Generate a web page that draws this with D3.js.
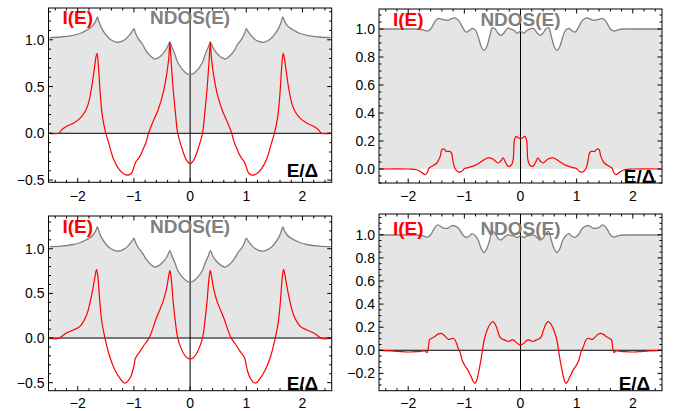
<!DOCTYPE html>
<html><head><meta charset="utf-8">
<script src="https://cdn.jsdelivr.net/npm/d3@7"></script>
<style>body{margin:0;background:#fff}svg{display:block}</style>
</head><body>
<svg id="c" width="682" height="411"></svg>
<script>
// ---------- data ----------
const xTicks = [-2, -1, 0, 1, 2];
const yTicksA = [-0.5, 0, 0.5, 1.0];
const yTicksB = [0, 0.2, 0.4, 0.6, 0.8, 1.0];
const yTicksD = [-0.2, 0, 0.2, 0.4, 0.6, 0.8, 1.0];

// NDOS grid, panels 1 and 3
const gridA = [-2.5,-2.3,-2.1,-1.95,-1.85,-1.78,-1.72,-1.68,-1.65,-1.62,-1.58,-1.52,-1.45,-1.38,-1.3,-1.22,-1.15,-1.08,-1.03,-1.0,-0.97,-0.92,-0.85,-0.78,-0.7,-0.63,-0.56,-0.5,-0.45,-0.4,-0.36,-0.33,-0.28,-0.22,-0.16,-0.1,-0.05,0,0.05,0.1,0.16,0.22,0.28,0.33,0.36,0.4,0.45,0.5,0.56,0.63,0.7,0.78,0.85,0.92,0.97,1.0,1.03,1.08,1.15,1.22,1.3,1.38,1.45,1.52,1.58,1.62,1.65,1.68,1.72,1.78,1.85,1.95,2.1,2.3,2.5];
const ndosA = [1.023,1.03,1.045,1.07,1.10,1.125,1.16,1.20,1.245,1.19,1.13,1.07,1.02,0.99,0.973,0.982,1.005,1.05,1.09,1.118,1.07,1.01,0.955,0.88,0.825,0.795,0.81,0.84,0.875,0.925,0.98,0.93,0.86,0.76,0.70,0.66,0.635,0.627,0.635,0.66,0.70,0.76,0.86,0.93,0.98,0.925,0.875,0.84,0.81,0.795,0.825,0.88,0.955,1.01,1.07,1.118,1.09,1.05,1.005,0.982,0.973,0.99,1.02,1.07,1.13,1.19,1.245,1.20,1.16,1.125,1.10,1.07,1.045,1.03,1.023];

// I(E), panel 1
const eI1 = [-2.5,-2.34,-2.28,-2.19,-2.08,-1.96,-1.87,-1.81,-1.75,-1.70,-1.67,-1.655,-1.63,-1.60,-1.56,-1.50,-1.45,-1.36,-1.27,-1.2,-1.14,-1.09,-1.05,-1.02,-0.99,-0.96,-0.92,-0.88,-0.83,-0.79,-0.74,-0.66,-0.57,-0.48,-0.42,-0.38,-0.36,-0.335,-0.30,-0.26,-0.22,-0.15,-0.1,-0.05,0,0.05,0.1,0.15,0.22,0.26,0.30,0.335,0.36,0.38,0.42,0.48,0.57,0.66,0.74,0.79,0.83,0.88,0.92,0.96,0.99,1.02,1.05,1.09,1.14,1.2,1.27,1.36,1.45,1.50,1.56,1.60,1.63,1.655,1.67,1.70,1.75,1.81,1.87,1.96,2.08,2.19,2.28,2.34,2.5];
const iE1 = [0,0,0.04,0.078,0.107,0.16,0.23,0.32,0.5,0.71,0.83,0.855,0.71,0.43,0.18,0.0,-0.10,-0.28,-0.38,-0.425,-0.445,-0.445,-0.43,-0.40,-0.34,-0.30,-0.27,-0.23,-0.16,-0.107,0.0,0.125,0.25,0.43,0.62,0.80,0.97,0.75,0.46,0.21,0.0,-0.15,-0.24,-0.30,-0.325,-0.30,-0.24,-0.15,0.0,0.21,0.46,0.75,0.97,0.80,0.62,0.43,0.25,0.125,0.0,-0.107,-0.16,-0.23,-0.27,-0.30,-0.34,-0.40,-0.43,-0.445,-0.445,-0.425,-0.38,-0.28,-0.10,0.0,0.18,0.43,0.71,0.855,0.83,0.71,0.5,0.32,0.23,0.16,0.107,0.078,0.04,0,0];

// I(E), panel 3
const eI3 = [-2.5,-2.34,-2.28,-2.2,-2.08,-1.96,-1.84,-1.75,-1.70,-1.665,-1.64,-1.61,-1.57,-1.515,-1.43,-1.34,-1.25,-1.16,-1.07,-1.01,-0.975,-0.95,-0.89,-0.81,-0.73,-0.6,-0.48,-0.42,-0.38,-0.36,-0.335,-0.30,-0.26,-0.22,-0.15,-0.1,-0.05,0,0.05,0.1,0.15,0.22,0.26,0.30,0.335,0.36,0.38,0.42,0.48,0.6,0.73,0.81,0.89,0.95,0.975,1.01,1.07,1.16,1.25,1.34,1.43,1.515,1.57,1.61,1.64,1.665,1.70,1.75,1.84,1.96,2.08,2.2,2.28,2.34,2.5];
const iE3 = [-0.005,-0.005,0.02,0.056,0.09,0.13,0.26,0.49,0.66,0.77,0.68,0.43,0.18,0.0,-0.21,-0.356,-0.45,-0.505,-0.45,-0.34,-0.23,-0.20,-0.15,-0.07,0.0,0.225,0.41,0.55,0.70,0.757,0.66,0.40,0.17,0.0,-0.13,-0.19,-0.225,-0.236,-0.225,-0.19,-0.13,0.0,0.17,0.40,0.66,0.757,0.70,0.55,0.41,0.225,0.0,-0.07,-0.15,-0.20,-0.23,-0.34,-0.45,-0.505,-0.45,-0.356,-0.21,0.0,0.18,0.43,0.68,0.77,0.66,0.49,0.26,0.13,0.09,0.056,0.02,-0.005,-0.005];

// NDOS grid, panels 2 and 4
const gridB = [-2.5,-2.0,-1.85,-1.75,-1.66,-1.6,-1.53,-1.47,-1.38,-1.3,-1.22,-1.16,-1.1,-1.03,-0.97,-0.91,-0.86,-0.8,-0.75,-0.7,-0.65,-0.6,-0.55,-0.5,-0.45,-0.4,-0.35,-0.3,-0.23,-0.17,-0.11,-0.06,0,0.06,0.11,0.17,0.23,0.3,0.35,0.4,0.45,0.5,0.55,0.6,0.65,0.7,0.75,0.8,0.86,0.91,0.97,1.03,1.1,1.16,1.22,1.3,1.38,1.47,1.53,1.6,1.66,1.75,1.85,2.0,2.5];
const ndosB = [1.0,1.0,1.0,0.995,0.985,1.0,1.05,1.075,1.068,1.062,1.075,1.078,1.06,1.01,0.978,0.99,1.005,0.99,0.94,0.875,0.848,0.875,0.945,1.01,1.0,0.97,0.955,0.97,1.005,1.0,0.99,0.97,0.985,0.97,0.99,1.0,1.005,0.97,0.955,0.97,1.0,1.01,0.945,0.875,0.848,0.875,0.94,0.99,1.005,0.99,0.978,1.01,1.06,1.078,1.075,1.062,1.068,1.075,1.05,1.0,0.985,0.995,1.0,1.0,1.0];
const ndosD = [0.998,0.998,0.998,0.992,0.98,1.0,1.06,1.085,1.06,1.056,1.08,1.075,1.055,1.0,0.978,0.99,1.01,0.99,0.95,0.88,0.846,0.88,0.95,1.03,1.01,0.97,0.955,0.975,1.0,0.995,0.99,0.975,0.99,0.975,0.99,0.995,1.0,0.975,0.955,0.97,1.01,1.03,0.95,0.88,0.846,0.88,0.95,0.99,1.01,0.99,0.978,1.0,1.055,1.075,1.08,1.056,1.06,1.085,1.06,1.0,0.98,0.992,0.998,0.998,0.998];

// I(E), panel 2
const eI2 = [-2.5,-2.0,-1.85,-1.76,-1.70,-1.66,-1.63,-1.58,-1.49,-1.43,-1.40,-1.36,-1.32,-1.26,-1.23,-1.2,-1.17,-1.11,-1.05,-0.99,-0.93,-0.81,-0.69,-0.58,-0.49,-0.40,-0.355,-0.31,-0.27,-0.22,-0.16,-0.13,-0.107,-0.077,-0.036,0,0.036,0.077,0.107,0.13,0.16,0.22,0.27,0.31,0.355,0.40,0.49,0.58,0.69,0.81,0.93,0.99,1.05,1.11,1.17,1.2,1.23,1.26,1.32,1.36,1.40,1.43,1.49,1.58,1.63,1.66,1.70,1.76,1.85,2.0,2.5];
const iE2 = [0,0,-0.005,-0.024,-0.04,-0.025,0.007,0.019,0.043,0.09,0.138,0.143,0.126,0.126,0.115,0.055,0.007,-0.021,-0.017,0.005,0.01,0.026,0.055,0.079,0.071,0.043,0.055,0.079,0.05,0.019,0.03,0.07,0.21,0.233,0.221,0.22,0.221,0.233,0.21,0.07,0.03,0.019,0.05,0.079,0.055,0.043,0.071,0.079,0.055,0.026,0.01,0.005,-0.017,-0.021,0.007,0.055,0.115,0.126,0.126,0.143,0.138,0.09,0.043,0.019,0.007,-0.025,-0.04,-0.024,-0.005,0,0];

// I(E), panel 4
const eI4 = [-2.5,-2.3,-2.1,-1.98,-1.85,-1.76,-1.70,-1.665,-1.64,-1.62,-1.58,-1.53,-1.47,-1.42,-1.37,-1.32,-1.28,-1.24,-1.2,-1.16,-1.12,-1.08,-1.03,-0.98,-0.94,-0.88,-0.84,-0.81,-0.78,-0.75,-0.70,-0.64,-0.58,-0.53,-0.49,-0.45,-0.40,-0.37,-0.32,-0.28,-0.24,-0.19,-0.155,-0.12,-0.08,-0.04,0,0.04,0.08,0.12,0.155,0.19,0.24,0.28,0.32,0.37,0.40,0.45,0.49,0.53,0.58,0.64,0.70,0.75,0.78,0.81,0.84,0.88,0.94,0.98,1.03,1.08,1.12,1.16,1.2,1.24,1.28,1.32,1.37,1.42,1.47,1.53,1.58,1.62,1.64,1.665,1.70,1.76,1.85,1.98,2.1,2.3,2.5];
const iE4 = [0,-0.005,-0.012,-0.015,-0.012,-0.008,-0.005,-0.02,0.03,0.09,0.105,0.118,0.14,0.147,0.135,0.11,0.095,0.098,0.104,0.085,0.03,-0.012,-0.098,-0.14,-0.17,-0.228,-0.27,-0.286,-0.26,-0.2,-0.07,0.104,0.19,0.235,0.248,0.225,0.16,0.118,0.095,0.09,0.078,0.08,0.09,0.088,0.07,0.055,0.046,0.055,0.07,0.088,0.09,0.08,0.078,0.09,0.095,0.118,0.16,0.225,0.248,0.235,0.19,0.104,-0.07,-0.2,-0.26,-0.286,-0.27,-0.228,-0.17,-0.14,-0.098,-0.012,0.03,0.085,0.104,0.098,0.095,0.11,0.135,0.147,0.14,0.118,0.105,0.09,0.03,-0.02,-0.005,-0.008,-0.012,-0.015,-0.012,-0.005,0];

// ---------- layout ----------
const panels = [
  {grid: gridA, ndos: ndosA, eI: eI1, iE: iE1, L: 48.5, R: 331.7, T: 8, B: 182.3, yd: [-0.524, 1.34], yt: yTicksA, minor: 0.1, zero: true,
   lblY: 23.5, eX: 2.0, eY: 177, xlY: 201},
  {grid: gridB, ndos: ndosB, eI: eI2, iE: iE2, L: 379, R: 662, T: 9, B: 183, yd: [-0.1, 1.143], yt: yTicksB, minor: 0.05, zero: false,
   lblY: 26, eX: 2.12, eY: 183, xlY: 201},
  {grid: gridA, ndos: ndosA, eI: eI3, iE: iE3, L: 48.5, R: 331.7, T: 216, B: 390.7, yd: [-0.59, 1.367], yt: yTicksA, minor: 0.1, zero: true,
   lblY: 232.5, eX: 2.0, eY: 389.5, xlY: 407.5},
  {grid: gridB, ndos: ndosD, eI: eI4, iE: iE4, L: 379, R: 662, T: 214, B: 390.7, yd: [-0.35, 1.18], yt: yTicksD, minor: 0.05, zero: true,
   lblY: 234.5, eX: 2.03, eY: 390.3, xlY: 407.5}
];

const svg = d3.select('#c');
const fmt = v => d3.format('.1f')(v).replace('-', '\u2212');
const tickFont = '"Liberation Sans", Arial, Helvetica, sans-serif';

panels.forEach((p, k) => {
  if (p.grid.length !== p.ndos.length || p.eI.length !== p.iE.length) throw new Error('length mismatch panel ' + k);
  const x = d3.scaleLinear().domain([-2.52, 2.52]).range([p.L, p.R]);
  const y = d3.scaleLinear().domain(p.yd).range([p.B, p.T]);
  const g = svg.append('g');
  const cid = 'clip' + k;
  svg.append('clipPath').attr('id', cid).append('rect')
    .attr('x', p.L).attr('y', p.T).attr('width', p.R - p.L).attr('height', p.B - p.T);
  const inner = g.append('g').attr('clip-path', `url(#${cid})`);

  const nd = p.grid.map((e, i) => [e, p.ndos[i]]);
  const ie = p.eI.map((e, i) => [e, p.iE[i]]);
  const curve = d3.curveCatmullRom.alpha(0.5);

  inner.append('path').datum(nd)
    .attr('d', d3.area().x(d => x(d[0])).y0(y(0)).y1(d => y(d[1])).curve(curve))
    .attr('fill', '#e5e5e5');

  if (p.zero) inner.append('line').attr('x1', p.L).attr('x2', p.R).attr('y1', y(0)).attr('y2', y(0))
    .attr('stroke', '#000').attr('stroke-width', 1);
  inner.append('line').attr('x1', x(0)).attr('x2', x(0)).attr('y1', p.T).attr('y2', p.B)
    .attr('stroke', '#000').attr('stroke-width', 1);

  inner.append('path').datum(nd)
    .attr('d', d3.line().x(d => x(d[0])).y(d => y(d[1])).curve(curve))
    .attr('fill', 'none').attr('stroke', '#808080').attr('stroke-width', 1.3);
  inner.append('path').datum(ie)
    .attr('d', d3.line().x(d => x(d[0])).y(d => y(d[1])).curve(curve))
    .attr('fill', 'none').attr('stroke', '#ff0000').attr('stroke-width', 1.2);

  const lf = '"Liberation Sans", Arial, Helvetica, sans-serif';
  inner.append('text').attr('x', x(-2)).attr('y', p.lblY).attr('text-anchor', 'middle')
    .attr('font-family', lf).attr('font-weight', 'bold').attr('font-size', 19).attr('fill', '#ff0000').text('I(E)');
  inner.append('text').attr('x', x(0)).attr('y', p.lblY).attr('text-anchor', 'middle')
    .attr('font-family', lf).attr('font-weight', 'bold').attr('font-size', 19).attr('fill', '#808080').text('NDOS(E)');
  inner.append('text').attr('x', x(p.eX)).attr('y', p.eY).attr('text-anchor', 'middle')
    .attr('font-family', lf).attr('font-weight', 'bold').attr('font-size', 19).attr('fill', '#000').text('E/\u0394');

  // frame
  g.append('rect').attr('x', p.L).attr('y', p.T).attr('width', p.R - p.L).attr('height', p.B - p.T)
    .attr('fill', 'none').attr('stroke', '#000').attr('stroke-width', 1);

  // ticks on all four sides, pointing inward
  const xMinor = d3.range(-2.4, 2.5, 0.2).map(v => +v.toFixed(2)).filter(v => Math.abs(v - Math.round(v)) > 1e-6);
  const tk = g.append('g').attr('stroke', '#000').attr('stroke-width', 1);
  xTicks.forEach(v => {
    tk.append('line').attr('x1', x(v)).attr('x2', x(v)).attr('y1', p.B).attr('y2', p.B - 4.5);
    tk.append('line').attr('x1', x(v)).attr('x2', x(v)).attr('y1', p.T).attr('y2', p.T + 4.5);
  });
  xMinor.forEach(v => {
    tk.append('line').attr('x1', x(v)).attr('x2', x(v)).attr('y1', p.B).attr('y2', p.B - 2.5);
    tk.append('line').attr('x1', x(v)).attr('x2', x(v)).attr('y1', p.T).attr('y2', p.T + 2.5);
  });
  const yMin = Math.ceil(p.yd[0] / p.minor), yMax = Math.floor(p.yd[1] / p.minor);
  d3.range(yMin, yMax + 1).forEach(i => {
    const v = i * p.minor;
    const isMajor = p.yt.some(t => Math.abs(t - v) < 1e-6);
    const len = isMajor ? 4.5 : 2.5;
    tk.append('line').attr('x1', p.L).attr('x2', p.L + len).attr('y1', y(v)).attr('y2', y(v));
    tk.append('line').attr('x1', p.R).attr('x2', p.R - len).attr('y1', y(v)).attr('y2', y(v));
  });

  // tick labels
  g.selectAll('.xl').data(xTicks).enter().append('text')
    .attr('x', d => x(d)).attr('y', p.xlY).attr('text-anchor', 'middle')
    .attr('font-family', tickFont).attr('font-size', 14).attr('fill', '#000')
    .text(d => String(d).replace('-', '\u2212'));
  g.selectAll('.yl').data(p.yt).enter().append('text')
    .attr('x', p.L - 4).attr('y', d => y(d)).attr('dy', '0.36em').attr('text-anchor', 'end')
    .attr('font-family', tickFont).attr('font-size', 14).attr('fill', '#000')
    .text(d => fmt(d));
});
</script>
</body></html>
